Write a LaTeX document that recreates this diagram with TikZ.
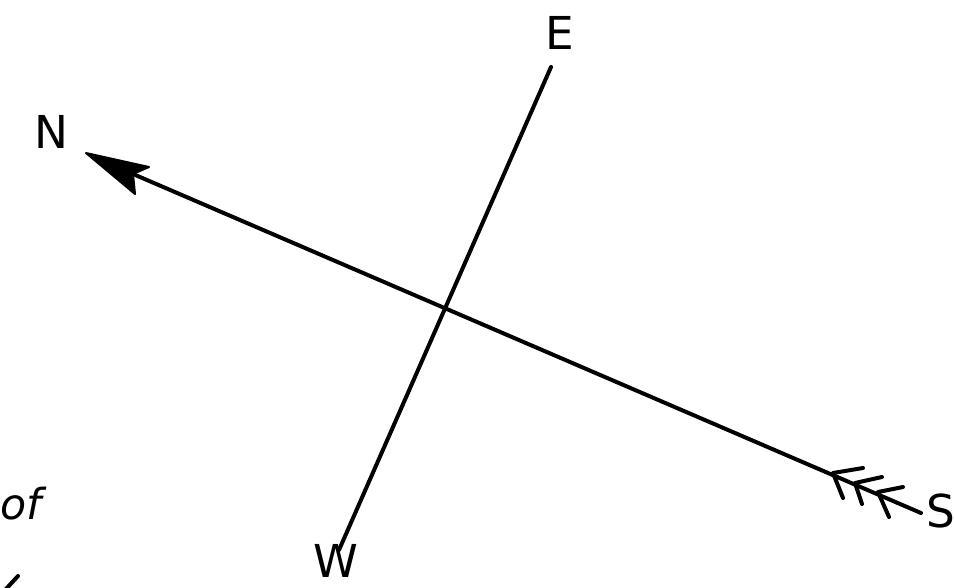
\documentclass[tikz,border=0pt]{standalone}
\usepackage{fontspec}
\setmainfont{DejaVu Sans}
\begin{document}
\begin{tikzpicture}[x=0.75pt,y=-0.75pt,
  axis/.style={line width=3pt,line cap=round},
  feather/.style={line width=3pt,line cap=round,line join=round},
  lbl/.style={inner sep=0pt,font=\fontsize{34}{34}\selectfont}]
\useasboundingbox (0,0) rectangle (954,587);
% axis end points
\coordinate (ntip) at (86,153);
\coordinate (notch) at (133,174);
\coordinate (send) at (921,513);
\coordinate (etop) at (551,67);
\coordinate (wbot) at (339,550);
% axes
\draw[axis] (notch) -- (send);
\draw[axis] (etop) -- (wbot);
% north arrowhead
\fill[line join=round] (ntip) -- (149,167) -- (notch) -- (135,194) -- cycle;
\draw[line width=1.5pt,line join=round] (ntip) -- (149,167) -- (notch) -- (135,194) -- cycle;
% south feathers
\draw[feather] (863,468) -- (833,473) -- (843,498);
\draw[feather] (882,477) -- (855,483) -- (862,504);
\draw[feather] (903,487) -- (878,492) -- (889,517);
% labels
\node[lbl] (N) at (51,132) {N};
\node[lbl] (E) at (560,33) {E};
\node[lbl] (W) at (336,561) {W};
\node[lbl] (S) at (941,511) {S};
\node[lbl,anchor=east,font=\fontsize{32}{32}\itshape] (of) at (42,504) {of};
% fragment at bottom left
\coordinate (fragA) at (6,589);
\coordinate (fragB) at (18,576);
\draw[axis] (fragA) -- (fragB);
\end{tikzpicture}
\end{document}
